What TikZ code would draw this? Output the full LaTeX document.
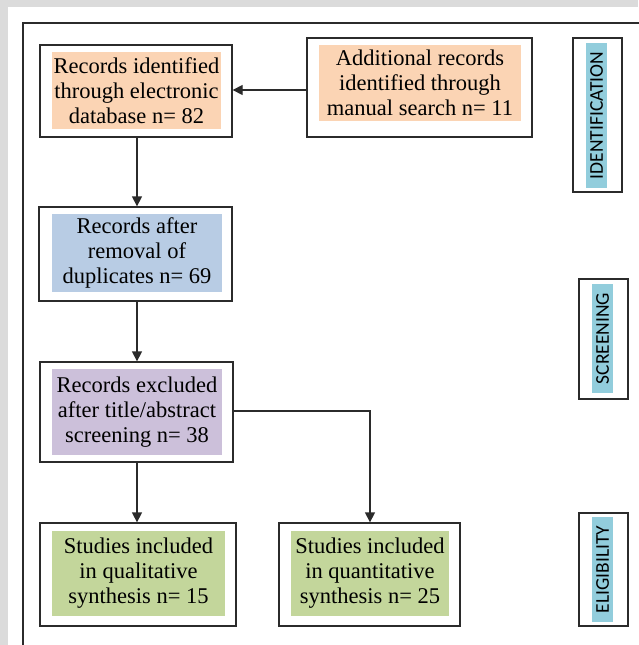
\documentclass[tikz,border=0pt]{standalone}
\usepackage{fontspec}
\setmainfont{Liberation Serif}
\newfontfamily\phasefont{Carlito}
\usetikzlibrary{arrows.meta}
\definecolor{peach}{HTML}{FBD4B4}
\definecolor{paleblue}{HTML}{B8CCE4}
\definecolor{lilac}{HTML}{CCC0DA}
\definecolor{olive}{HTML}{C3D69B}
\definecolor{aqua}{HTML}{92CDDC}
\definecolor{edge}{HTML}{2B2B2B}

\begin{document}
\begin{tikzpicture}[x=1pt,y=-1pt,
	frame/.style={draw=edge, line width=1.3pt, fill=white, inner sep=0pt},
	shade/.style={inner sep=0pt, align=center, font=\fontsize{22.5}{25}\selectfont},
	phase/.style={inner sep=0pt, fill=aqua, rotate=90, font=\phasefont\fontsize{19.5}{21}\selectfont},
	>={Triangle[length=10pt,width=10pt]}]
	\useasboundingbox (0,0) rectangle (638,645);
	\fill[gray!28] (0,0) rectangle (638,645);
	\fill[white] (8,7) rectangle (638,645);
	\draw[edge, line width=1.3pt] (23,650) -- (23,23) -- (645,23);

	% outer frames
	\node[frame, minimum width=192pt, minimum height=92pt] (rid) at (136,91) {};
	\node[frame, minimum width=225pt, minimum height=99pt] (add) at (419.5,87.5) {};
	\node[frame, minimum width=193pt, minimum height=94pt] (dup) at (135.5,254) {};
	\node[frame, minimum width=193pt, minimum height=100pt] (exc) at (136.5,412) {};
	\node[frame, minimum width=196pt, minimum height=103pt] (qual) at (138,574.5) {};
	\node[frame, minimum width=181pt, minimum height=103pt] (quant) at (369.5,574.5) {};
	\node[frame, minimum width=49pt, minimum height=154pt] (idb) at (597.5,115) {};
	\node[frame, minimum width=49pt, minimum height=120pt] (scb) at (603.5,339) {};
	\node[frame, minimum width=49pt, minimum height=113pt] (elb) at (603.5,569.5) {};

	% coloured text panels
	\node[shade, fill=peach, minimum width=169pt, minimum height=77pt] (ridt) at (136.5,90.5)
		{Records identified\\through electronic\\database n= 82};
	\node[shade, fill=peach, minimum width=202pt, minimum height=76pt] (addt) at (420,83)
		{Additional records\\identified through\\manual search n= 11};
	\node[shade, fill=paleblue, minimum width=170pt, minimum height=78pt] (dupt) at (137,253)
		{Records after\\removal of\\duplicates n= 69};
	\node[shade, fill=lilac, minimum width=170pt, minimum height=86pt] (exct) at (137,412)
		{Records excluded\\after title/abstract\\screening n= 38};
	\node[shade, fill=olive, minimum width=173pt, minimum height=85pt] (qualt) at (138.5,573.5)
		{Studies included\\in qualitative\\synthesis n= 15};
	\node[shade, fill=olive, minimum width=158pt, minimum height=85pt] (quantt) at (370,573.5)
		{Studies included\\in quantitative\\synthesis n= 25};
	\node[phase, minimum width=145pt, minimum height=21pt] (idt) at (596.5,115.5) {IDENTIFICATION};
	\node[phase, minimum width=109pt, minimum height=21pt] (sct) at (602.5,338.5) {SCREENING};
	\node[phase, minimum width=105pt, minimum height=21pt] (elt) at (602.5,569.5) {ELIGIBILITY};

	\coordinate (turn) at (370,411);
	\path[->, color=edge, line width=1.3pt]
	(add.west |- 0,90) edge (rid.east |- 0,90)
	(rid.south -| 137,0) edge (dup.north -| 137,0)
	(dup.south -| 137,0) edge (exc.north -| 137,0)
	(exc.south -| 137,0) edge (qual.north -| 137,0);
	\draw[->, edge, line width=1.3pt] (exc.east |- turn) -- (turn) -- (quant.north -| turn);
\end{tikzpicture}
\end{document}
